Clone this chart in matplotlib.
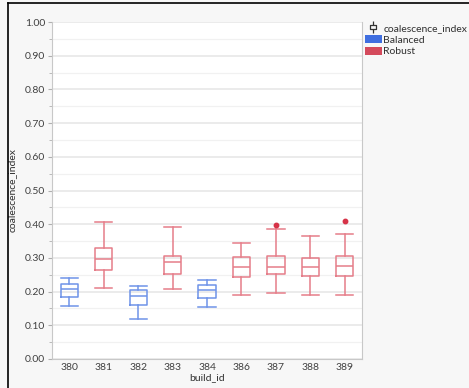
import numpy as np
import matplotlib.pyplot as plt
from matplotlib.path import Path
from matplotlib.patches import Patch
from matplotlib.lines import Line2D

plt.rcParams['font.family'] = ['Lato', 'DejaVu Sans']

# box stats
build_ids = ['380', '381', '382', '383', '384', '386', '387', '388', '389']
groups = ['Balanced', 'Robust', 'Balanced', 'Robust', 'Balanced',
          'Robust', 'Robust', 'Robust', 'Robust']
whislo = [0.156, 0.212, 0.118, 0.207, 0.154, 0.189, 0.196, 0.191, 0.191]
q1 = [0.183, 0.265, 0.161, 0.252, 0.182, 0.243, 0.251, 0.245, 0.245]
med = [0.208, 0.298, 0.186, 0.288, 0.205, 0.272, 0.272, 0.272, 0.276]
q3 = [0.222, 0.329, 0.206, 0.306, 0.221, 0.302, 0.307, 0.299, 0.306]
whishi = [0.240, 0.406, 0.216, 0.392, 0.234, 0.345, 0.387, 0.364, 0.371]
fliers = [[], [], [], [], [], [], [0.398], [], [0.410]]

line_col = {'Balanced': '#6f93e8', 'Robust': '#e57d89'}
patch_col = {'Balanced': '#3f6ee0', 'Robust': '#d44a5c'}
flier_col = '#d63247'

fig = plt.figure(figsize=(4.69, 3.88), dpi=100)
fig.patch.set_facecolor('#f7f7f7')
ax = fig.add_axes([52/469, 29/388, 310/469, 337/388])
ax.set_facecolor('white')

for i in range(len(build_ids)):
    st = dict(whislo=whislo[i], q1=q1[i], med=med[i], q3=q3[i],
              whishi=whishi[i], fliers=fliers[i])
    c = line_col[groups[i]]
    ax.bxp([st], positions=[i], widths=0.5, showfliers=True,
           boxprops=dict(color=c, lw=1.1),
           medianprops=dict(color=c, lw=1.1),
           whiskerprops=dict(color=c, lw=1.1),
           capprops=dict(color=c, lw=1.1),
           capwidths=0.5,
           flierprops=dict(marker='o', markersize=3.2, markerfacecolor=flier_col,
                           markeredgecolor=flier_col))

ax.set_xlim(-0.5, len(build_ids) - 0.5)
ax.set_ylim(0, 1)
ax.set_xticks(range(len(build_ids)))
ax.set_xticklabels(build_ids)
ax.set_yticks(np.arange(0, 1.01, 0.1))
ax.set_yticklabels(['%.2f' % v for v in np.arange(0, 1.01, 0.1)])
ax.set_yticks(np.arange(0.05, 1.0, 0.1), minor=True)
ax.grid(axis='y', which='major', color='#e6e6e6', lw=1.1)
ax.grid(axis='y', which='minor', color='#f1f1f1', lw=0.9)
ax.set_axisbelow(True)
ax.tick_params(axis='both', labelsize=7.5, colors='#404040', length=3)
ax.tick_params(axis='y', which='minor', length=2, color='#b0b0b0')
ax.tick_params(axis='both', which='major', color='#b0b0b0')
ax.tick_params(axis='x', length=0, pad=3)
ax.tick_params(axis='y', pad=2)
for s in ax.spines.values():
    s.set_color('#c8c8c8')
ax.spines['top'].set_visible(False)
ax.set_xlabel('build_id', fontsize=7.5, color='#303030', labelpad=1)
ax.set_ylabel('coalescence_index', fontsize=7.5, color='#303030')
ax.yaxis.set_label_coords(-0.113, 0.5)

# little box-plot glyph for the legend header
glyph = Path([(-0.6, -0.4), (0.6, -0.4), (0.6, 0.4), (-0.6, 0.4), (-0.6, -0.4),
              (0, 0.4), (0, 1.0), (0, -0.4), (0, -1.0)],
             [Path.MOVETO, Path.LINETO, Path.LINETO, Path.LINETO, Path.CLOSEPOLY,
              Path.MOVETO, Path.LINETO, Path.MOVETO, Path.LINETO])
handles = [Line2D([], [], ls='none', marker=glyph, markersize=8,
                  markerfacecolor='none', markeredgecolor='#333333', markeredgewidth=0.9),
           Patch(facecolor=patch_col['Balanced'], edgecolor='none'),
           Patch(facecolor=patch_col['Robust'], edgecolor='none')]
leg = fig.legend(handles, ['coalescence_index', 'Balanced', 'Robust'],
                 loc='upper left', bbox_to_anchor=(365/469, 1 - 23/388),
                 frameon=False, fontsize=7.5, borderpad=0, handlelength=1.6,
                 handleheight=0.85, handletextpad=0.15, labelspacing=0.2,
                 borderaxespad=0)
for t in leg.get_texts():
    t.set_color('#303030')

# window border (top and left)
fig.add_artist(Line2D([8/469, 8/469], [0, 1 - 3/388], color='black', lw=1.2,
                      transform=fig.transFigure))
fig.add_artist(Line2D([8/469, 1], [1 - 3/388, 1 - 3/388], color='black', lw=1.2,
                      transform=fig.transFigure))

fig.savefig('out.png', dpi=100, facecolor=fig.get_facecolor())
